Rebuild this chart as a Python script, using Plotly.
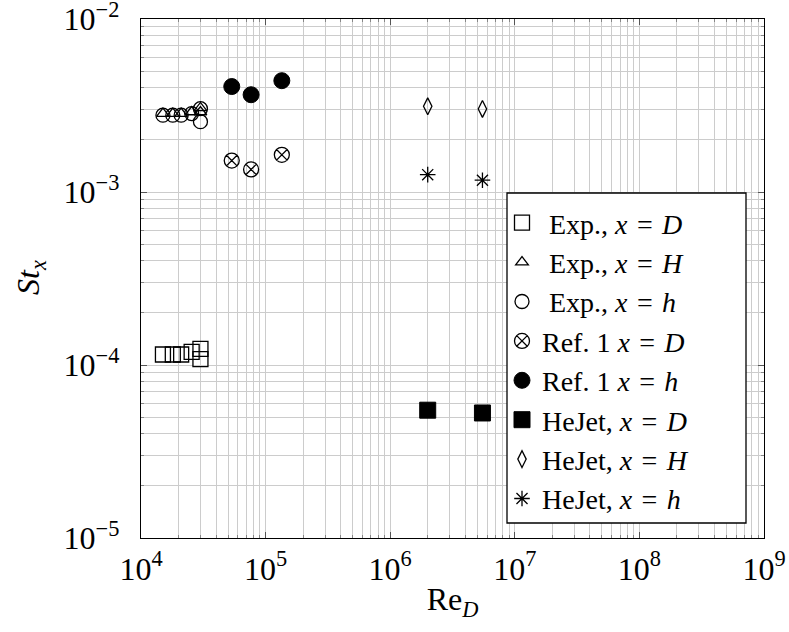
import plotly.graph_objects as go

# Reynolds numbers and Stanton numbers for each data set
exp_D_re = [1.5e4, 1.8e4, 2.1e4, 2.55e4, 3.0e4, 3.0e4]
exp_D_st = [1.15e-4, 1.15e-4, 1.15e-4, 1.19e-4, 1.24e-4, 1.08e-4]

exp_H_re = [1.5e4, 1.8e4, 2.1e4, 2.55e4, 3.0e4, 3.0e4]
exp_H_st = [2.84e-3, 2.84e-3, 2.84e-3, 2.90e-3, 3.06e-3, 2.90e-3]

exp_h_re = [1.5e4, 1.8e4, 2.1e4, 2.55e4, 3.0e4, 3.0e4]
exp_h_st = [2.78e-3, 2.78e-3, 2.78e-3, 2.84e-3, 3.03e-3, 2.55e-3]

ref_D_re = [5.35e4, 7.65e4, 1.35e5]
ref_D_st = [1.52e-3, 1.35e-3, 1.64e-3]

ref_h_re = [5.35e4, 7.65e4, 1.35e5]
ref_h_st = [4.07e-3, 3.65e-3, 4.40e-3]

hejet_D_re = [2.0e6, 5.5e6]
hejet_D_st = [5.48e-5, 5.28e-5]

hejet_H_re = [2.0e6, 5.5e6]
hejet_H_st = [3.13e-3, 3.02e-3]

hejet_h_re = [2.0e6, 5.5e6]
hejet_h_st = [1.26e-3, 1.17e-3]

x_ticks = [1e4, 1e5, 1e6, 1e7, 1e8, 1e9]
x_labels = ["10<sup>4</sup>", "10<sup>5</sup>", "10<sup>6</sup>",
            "10<sup>7</sup>", "10<sup>8</sup>", "10<sup>9</sup>"]
y_ticks = [1e-5, 1e-4, 1e-3, 1e-2]
y_labels = ["10<sup>−5</sup>", "10<sup>−4</sup>", "10<sup>−3</sup>", "10<sup>−2</sup>"]

FONT = "Liberation Serif"
BLACK = "black"
SP = "\u2004"  # math-style spacing around "="

def label(prefix, var):
    return f"{prefix}<i>x</i>{SP}={SP}<i>{var}</i>"

series = [
    (exp_D_re, exp_D_st, label("\u2005Exp., ", "D"), "square-open", 15, 1.3),
    (exp_H_re, exp_H_st, label("\u2005Exp., ", "H"), "triangle-up-open", 11, 1.3),
    (exp_h_re, exp_h_st, label("\u2005Exp., ", "h"), "circle-open", 14, 1.3),
    (ref_D_re, ref_D_st, label("Ref. 1 ", "D"), "circle-x-open", 15, 1.3),
    (ref_h_re, ref_h_st, label("Ref. 1 ", "h"), "circle", 16, 1.0),
    (hejet_D_re, hejet_D_st, label("HeJet, ", "D"), "square", 16, 1.0),
    (hejet_H_re, hejet_H_st, label("HeJet, ", "H"), "diamond-tall-open", 12, 1.3),
    (hejet_h_re, hejet_h_st, label("HeJet, ", "h"), "asterisk-open", 13, 1.3),
]

fig = go.Figure()
for i, (xs, ys, name, sym, size, lw) in enumerate(series):
    fig.add_trace(go.Scatter(
        x=xs, y=ys, mode="markers", name=name, legendgroup=f"g{i}",
        marker=dict(symbol=sym, size=size, color=BLACK,
                    line=dict(color=BLACK, width=lw)),
    ))

minor_x = [m * 10 ** k for k in range(4, 9) for m in range(2, 10)]
minor_y = [m * 10.0 ** k for k in range(-5, -2) for m in range(2, 10)]
GRID = "#cccccc"
TICK_FS = 32
LEG_FS = 28

common_axis = dict(
    type="log",
    showgrid=True, gridcolor=GRID, gridwidth=1,
    ticks="inside", ticklen=6, tickcolor="#555",
    showline=True, linecolor=BLACK, linewidth=1.3, mirror="ticks",
    tickfont=dict(family=FONT, size=TICK_FS),
    ticklabeloverflow="allow",
    zeroline=False, automargin=False,
)

# legend frame, drawn as a paper-space box behind the legend entries
fig.add_shape(type="rect", xref="paper", yref="paper",
              x0=(507 - 141) / 623, x1=(746 - 141) / 623,
              y0=(538 - 523) / 519, y1=(538 - 193) / 519,
              line=dict(color=BLACK, width=1.3), fillcolor="white",
              layer="above")

# vertical axis title
fig.add_annotation(text="<i>St</i><sub><i>x</i></sub>", textangle=-90,
                   xref="paper", yref="paper",
                   x=(30 - 141) / 623, y=(538 - 278) / 519,
                   xanchor="center", yanchor="middle", showarrow=False,
                   font=dict(family=FONT, size=TICK_FS, color=BLACK))

fig.update_layout(
    width=789, height=632,
    margin=dict(l=141, r=25, t=19, b=94),
    paper_bgcolor="white", plot_bgcolor="white",
    font=dict(family=FONT, size=TICK_FS, color=BLACK),
    legend=dict(
        x=(502 - 141) / 623, y=(538 - 198) / 519,
        xanchor="left", yanchor="top",
        bgcolor="rgba(0,0,0,0)", borderwidth=0,
        font=dict(family=FONT, size=LEG_FS, color=BLACK),
        tracegroupgap=0, traceorder="grouped",
        itemsizing="trace", itemwidth=30,
    ),
    xaxis=dict(
        common_axis, range=[4, 9],
        tickvals=x_ticks, ticktext=x_labels,
        minor=dict(tickvals=minor_x, showgrid=True, gridcolor=GRID,
                   gridwidth=1, ticks="inside", ticklen=3, tickcolor="#888"),
        ticklabelstandoff=2,
        title=dict(text="Re<sub><i>D</i></sub>", standoff=2,
                   font=dict(family=FONT, size=TICK_FS)),
    ),
    yaxis=dict(
        common_axis, range=[-5, -2],
        tickvals=y_ticks, ticktext=y_labels,
        minor=dict(tickvals=minor_y, showgrid=True, gridcolor=GRID,
                   gridwidth=1, ticks="inside", ticklen=3, tickcolor="#888"),
        ticklabelstandoff=14,
    ),
)

fig.write_html("out.html")
